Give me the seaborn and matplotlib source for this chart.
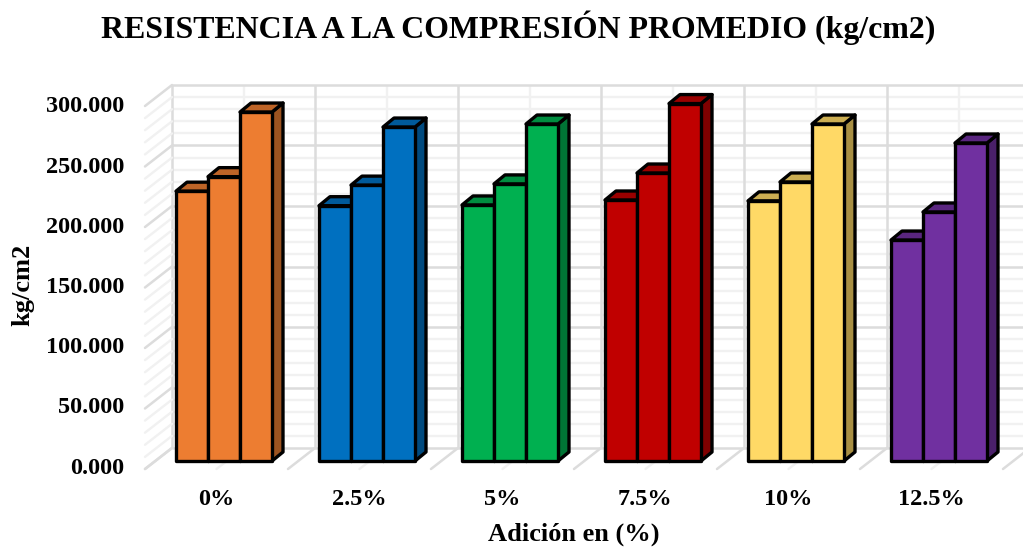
import numpy as np
import pandas as pd
import matplotlib
matplotlib.use("Agg")
import matplotlib.pyplot as plt
from matplotlib.patches import Polygon
from matplotlib.transforms import Affine2D
from matplotlib.colors import to_rgb
import seaborn as sns

categories = ["0%", "2.5%", "5%", "7.5%", "10%", "12.5%"]
series_names = ["A", "B", "C"]
series_a = [223, 211, 211.6, 215.7, 215, 182.6]
series_b = [235, 228, 229, 238, 230.6, 205.8]
series_c = [288.4, 276, 278.5, 295.4, 278.5, 262.8]
colors = ["#ED7D31", "#0070C0", "#00B050", "#C00000", "#FFD966", "#7030A0"]
y_ticks = [0, 50, 100, 150, 200, 250, 300]
y_minor = list(range(0, 301, 10))

W, H = 1023, 547
sns.set_theme(style="white")
plt.rcParams["font.family"] = ["Liberation Serif", "DejaVu Serif"]
plt.rcParams["font.weight"] = "bold"

fig = plt.figure(figsize=(W / 100, H / 100), dpi=100, facecolor="white")
# front plane of the bars: category band 143 px wide, 0 at y=461 px, 300 at y=98 px
left, right, base, top = 152.5, 152.5 + 6 * 143, 461, 98
ax = fig.add_axes([left / W, 1 - base / H, (right - left) / W, (base - top) / H])

df = pd.DataFrame({
    "cat": categories * 3,
    "serie": np.repeat(series_names, len(categories)),
    "val": series_a + series_b + series_c,
})
sns.barplot(data=df, x="cat", y="val", hue="serie", order=categories, ax=ax,
            width=96 / 143, gap=0, dodge=True, legend=False, errorbar=None,
            palette=["#888888"] * 3, saturation=1)
ax.set_xlim(-0.5, 5.5)
ax.set_ylim(0, 300)
for s in ax.spines.values():
    s.set_visible(False)
ax.patch.set_alpha(0)


def shifted(dx, dy):
    """data coordinates displaced by (dx, dy) pixels of the figure"""
    return ax.transData + Affine2D().translate(dx, dy)


EDGE = 2.4
BAR_DX, BAR_DY = 11, 9
for cont in ax.containers:
    for i, bar in enumerate(cont.patches):
        col = np.array(to_rgb(colors[i]))
        x0, w, h = bar.get_x(), bar.get_width(), bar.get_height()
        x1 = x0 + w
        bar.set(facecolor=colors[i], edgecolor="black", linewidth=EDGE, zorder=5,
                joinstyle="round", clip_on=False)
        ux, uy = BAR_DX / 143, BAR_DY * 300 / (base - top)
        ax.add_patch(Polygon([(x1, 0), (x1 + ux, uy), (x1 + ux, h + uy), (x1, h)],
                             closed=True, facecolor=col * 0.66, edgecolor="black",
                             linewidth=EDGE, zorder=4, clip_on=False, joinstyle="round"))
        ax.add_patch(Polygon([(x0, h), (x0 + ux, h + uy), (x1 + ux, h + uy), (x1, h)],
                             closed=True, facecolor=col * 0.8, edgecolor="black",
                             linewidth=EDGE, zorder=4, clip_on=False, joinstyle="round"))

# walls: back wall sits 19.5 px to the right and 13 px up from the bars' front plane
WALL_DX, WALL_DY = 19.5, 13
FRONT_DX, FRONT_DY = -27, -21
wall = shifted(WALL_DX, WALL_DY)
MAJ, MIN = "#DCDCDC", "#F1F1F1"
lw_maj, lw_min = 1.8, 1.7
xend = 5.5
for v in y_minor:
    major = v in y_ticks
    c, lw, z = (MAJ, lw_maj, 1.5) if major else (MIN, lw_min, 1)
    ax.plot([-0.5, xend], [v, v], color=c, lw=lw, transform=wall, clip_on=False, zorder=z,
            solid_capstyle="butt")
    p0 = wall.transform((-0.5, v))
    fig.add_artist(plt.Line2D([p0[0], p0[0] + FRONT_DX], [p0[1], p0[1] + FRONT_DY],
                              color=c, lw=lw, transform=None, zorder=0.5))
for k in np.arange(-0.5, 5.6, 0.5):
    major = float(k + 0.5).is_integer()
    c, lw, z = (MAJ, lw_maj, 1.5) if major else (MIN, lw_min, 1)
    ax.plot([k, k], [0, 300], color=c, lw=lw, transform=wall, clip_on=False, zorder=z,
            solid_capstyle="butt")
    p0 = wall.transform((k, 0))
    ax.plot([p0[0], p0[0] + FRONT_DX], [p0[1], p0[1] + FRONT_DY], color=c, lw=lw,
            transform=None, clip_on=False, zorder=z)

# axes text
ax.set_yticks(y_ticks)
ax.set_yticklabels([f"{v:.3f}" for v in y_ticks], fontsize=17.5, fontweight="bold", color="black")
ax.tick_params(axis="y", length=0, pad=20)
for v, t in zip(y_ticks, ax.get_yticklabels()):
    t.set_transform(t.get_transform() + Affine2D().translate(0, -4.5 - 2 * v / 300))
ax.set_xticks(range(len(categories)))
ax.set_xticklabels(categories, fontsize=17.5, fontweight="bold", color="black")
ax.tick_params(axis="x", length=0, pad=20)
for t in ax.get_xticklabels():
    t.set_transform(t.get_transform() + Affine2D().translate(-8, 0))
ax.set_xlabel("")
ax.set_ylabel("")
fig.text(573.5 / W, 1 - 534 / H, "Adición en (%)", ha="center", va="center", fontsize=19,
         fontweight="bold", color="black")
fig.text(23 / W, 1 - 285 / H, "kg/cm2", rotation=90, ha="center", va="center", fontsize=19,
         fontweight="bold", color="black")
fig.text(518.5 / W, 1 - 28 / H, "RESISTENCIA A LA COMPRESIÓN PROMEDIO (kg/cm2)", ha="center",
         va="center", fontsize=22.95, fontweight="bold", color="black")

fig.savefig("out.png", dpi=100, facecolor="white")
